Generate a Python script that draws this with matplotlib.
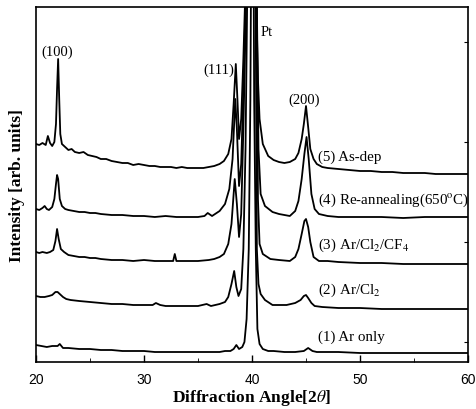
import matplotlib
matplotlib.use("Agg")
import matplotlib.pyplot as plt

plt.rcParams['font.family'] = ['Liberation Serif', 'DejaVu Serif']
plt.rcParams['mathtext.fontset'] = 'stix'

# XRD patterns (stacked, arb. units)
x1 = [20.0, 20.5, 21.0, 21.5, 22.0, 22.2, 22.5, 23, 24, 25,
      26, 27, 28, 29, 30, 31, 32, 33, 34, 35,
      36, 37, 37.5, 38.0, 38.3, 38.55, 38.8, 39.1, 39.3, 39.5,
      39.7, 39.85, 40.05, 40.2, 40.35, 40.5, 40.7, 41.0, 41.5, 42.0,
      43, 44, 44.8, 45.2, 45.6, 46, 48, 50, 52, 55,
      58, 60]
y1 = [17, 16, 15, 16, 16, 18, 14, 14, 13, 13,
      12, 12, 11, 11, 11, 10, 10, 10, 10, 10,
      10, 10, 11, 11, 13, 17, 13, 15, 20, 43,
      113, 263, 663, 263, 113, 33, 18, 13, 11, 11,
      10, 10, 11, 14, 11, 10, 10, 9, 9, 9,
      9, 9]

x2 = [20.0, 20.4, 20.8, 21.2, 21.5, 21.8, 22.0, 22.2, 22.5, 22.8,
      23.2, 24, 25, 26, 27, 28, 29, 30, 30.8, 31.1,
      31.5, 32, 33, 34, 35, 35.8, 36.2, 37.0, 37.5, 37.8,
      38.1, 38.35, 38.55, 38.75, 39.0, 39.2, 39.4, 39.55, 40.2, 40.45,
      40.6, 40.8, 41.2, 41.9, 42.5, 43.2, 44.0, 44.5, 44.8, 45.0,
      45.2, 45.5, 45.8, 46.5, 48, 50, 52, 55, 58, 60]
y2 = [66, 65, 65, 66, 67, 70, 70, 68, 65, 63,
      62, 61, 60, 59, 58, 58, 57, 57, 57, 59,
      57, 56, 56, 56, 56, 58, 56, 58, 60, 65,
      78, 91, 75, 66, 73, 113, 213, 358, 663, 113,
      78, 68, 62, 57, 57, 57, 59, 62, 66, 67,
      64, 59, 56, 55, 54, 54, 53, 53, 53, 53]

x3 = [20.0, 20.3, 20.6, 21.0, 21.3, 21.6, 21.8, 21.95, 22.1, 22.3,
      22.6, 23.0, 23.5, 24.0, 24.5, 25.0, 25.5, 26.0, 27.0, 28.0,
      29, 30, 31, 32, 32.7, 32.85, 33.0, 33.5, 34, 35,
      36, 36.5, 37, 37.4, 37.8, 38.1, 38.4, 38.6, 38.8, 39.0,
      39.2, 39.45, 40.1, 40.45, 40.55, 40.7, 41.0, 41.7, 42.5, 43.5,
      44.0, 44.3, 44.6, 44.85, 45.0, 45.2, 45.4, 45.7, 46.2, 47.0,
      48, 50, 52, 54, 56, 58, 60]
y3 = [110, 109, 110, 109, 110, 112, 121, 133, 123, 113,
      110, 107, 106, 105, 105, 104, 104, 103, 102, 102,
      101, 102, 101, 101, 101, 108, 101, 101, 101, 101,
      102, 103, 105, 108, 118, 138, 183, 158, 125, 148,
      233, 358, 663, 358, 163, 118, 108, 103, 102, 101,
      105, 113, 128, 141, 143, 135, 120, 105, 101, 101,
      100, 99, 99, 98, 98, 98, 98]

x4 = [20.0, 20.3, 20.6, 20.8, 21.0, 21.2, 21.5, 21.7, 21.85, 21.95,
      22.05, 22.2, 22.4, 22.7, 23.0, 23.5, 24.0, 24.5, 25.0, 25.5,
      26, 27, 28, 29, 30, 31, 32, 33, 34, 35,
      35.6, 35.9, 36.3, 37.0, 37.5, 37.9, 38.2, 38.45, 38.6, 38.8,
      39.0, 39.2, 39.4, 40.1, 40.45, 40.6, 40.8, 41.2, 41.9, 42.5,
      43.5, 44.0, 44.3, 44.6, 44.85, 45.05, 45.25, 45.5, 45.8, 46.2,
      47, 48, 50, 52, 54, 56, 58, 60]
y4 = [153, 152, 154, 156, 153, 152, 155, 163, 178, 187,
      183, 163, 156, 153, 152, 151, 150, 150, 149, 149,
      148, 147, 147, 146, 146, 145, 146, 145, 145, 145,
      146, 149, 146, 151, 158, 173, 203, 263, 233, 176,
      198, 273, 358, 663, 358, 213, 168, 156, 150, 148,
      146, 151, 161, 183, 208, 225, 203, 168, 153, 148,
      146, 145, 145, 145, 144, 145, 145, 145]

x5 = [20.0, 20.3, 20.6, 20.9, 21.1, 21.3, 21.5, 21.7, 21.85, 21.95,
      22.05, 22.15, 22.25, 22.4, 22.6, 22.8, 23.0, 23.3, 23.6, 24.0,
      24.4, 24.8, 25.2, 25.6, 26.0, 26.5, 27.0, 27.5, 28.0, 28.5,
      29.0, 29.5, 30.0, 30.5, 31.0, 31.5, 32.0, 32.5, 33.0, 33.5,
      34.0, 34.5, 35.0, 35.5, 36.0, 36.5, 37.0, 37.4, 37.8, 38.1,
      38.3, 38.5, 38.65, 38.8, 39.0, 39.2, 39.35, 39.5, 40.1, 40.4,
      40.55, 40.7, 41.0, 41.5, 42.0, 42.5, 43.0, 43.5, 44.0, 44.3,
      44.6, 44.8, 45.0, 45.2, 45.4, 45.7, 46.0, 46.5, 47.0, 48.0,
      49, 50, 51, 52, 53, 54, 55, 56, 57, 58, 59, 60]
y5 = [218, 217, 219, 217, 226, 219, 216, 220, 238, 273,
      303, 263, 228, 218, 216, 214, 212, 213, 210, 209,
      210, 207, 206, 205, 203, 203, 201, 200, 199, 199,
      197, 198, 197, 196, 196, 195, 195, 195, 194, 195,
      194, 194, 194, 194, 195, 196, 198, 201, 208, 223,
      258, 298, 263, 223, 243, 303, 358, 663, 663, 358,
      283, 243, 218, 206, 202, 200, 199, 200, 203, 209,
      223, 238, 256, 235, 213, 203, 198, 195, 194, 193,
      192, 191, 191, 190, 190, 189, 189, 189, 188, 188, 188, 188]

xs = [x1, x2, x3, x4, x5]
ys = [y1, y2, y3, y4, y5]
curve_labels = ['(1) Ar only', '(2) Ar/Cl$_2$', '(3) Ar/Cl$_2$/CF$_4$',
                '(4) Re-annealing(650$^{\\rm o}$C)', '(5) As-dep']
label_y = [26, 73, 118, 163, 206]

peak_names = ['(100)', '(111)', 'Pt', '(200)']
peak_x = [22.0, 36.95, 41.4, 44.8]
peak_y = [311, 293, 331, 263]

fig = plt.figure(figsize=(4.77, 4.10), dpi=100)
ax = fig.add_axes([36/477, 47/410, 432/477, 355/410])

for x, y in zip(xs, ys):
    ax.plot(x, y, color='black', lw=1.3)

for t, yy in zip(curve_labels, label_y):
    ax.text(46.1, yy, t, fontsize=10.8, ha='left', va='center')

for t, px, py in zip(peak_names, peak_x, peak_y):
    ax.text(px, py, t, fontsize=10.5, ha='center', va='center')

ax.set_xlim(20, 60)
ax.set_ylim(0, 355)
ax.set_xticks([20, 30, 40, 50, 60])
ax.set_xticks([25, 35, 45, 55], minor=True)
ax.set_xticklabels(['20', '30', '40', '50', '60'], family='Liberation Sans', fontsize=10)
ax.tick_params(axis='x', direction='in', length=5, width=1, pad=7)
ax.tick_params(axis='x', which='minor', direction='in', length=3)
ax.set_yticks([20, 120, 220, 320])
ax.tick_params(axis='y', direction='in', length=3, left=False, right=True,
               labelleft=False)
for s in ax.spines.values():
    s.set_linewidth(1.2)

ax.set_xlabel('Diffraction Angle[2$\\theta$]', fontsize=12.5, fontweight='bold', labelpad=1)
ax.set_ylabel('Intensity [arb. units]', fontsize=12.5, fontweight='bold', labelpad=8)

fig.savefig('out.png', dpi=100)
